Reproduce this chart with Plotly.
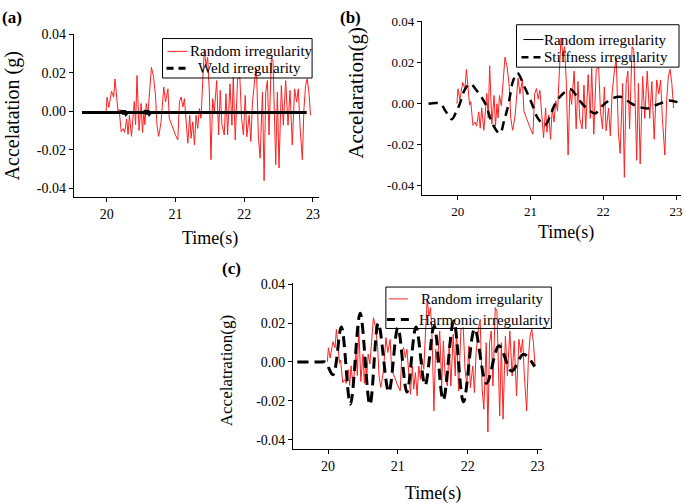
import plotly.graph_objects as go

W, H = 685, 503

# ---------------- data ----------------
random_t = [19.99, 20.005, 20.03, 20.07, 20.10, 20.12, 20.165, 20.18, 20.21, 20.24, 20.26, 20.29,
            20.31, 20.33, 20.36, 20.38, 20.40, 20.42, 20.44, 20.47, 20.49, 20.50, 20.52, 20.54,
            20.555, 20.575, 20.60, 20.65, 20.68, 20.71, 20.73, 20.755, 20.768, 20.79, 20.83, 20.855,
            20.89, 20.91, 20.947, 20.976, 21.0, 21.034, 21.058, 21.082, 21.107, 21.13, 21.155, 21.18,
            21.208, 21.227, 21.252, 21.276, 21.30, 21.324, 21.348, 21.372, 21.396, 21.42, 21.445,
            21.469, 21.493, 21.517, 21.541, 21.565, 21.60, 21.628, 21.652, 21.677, 21.710, 21.735,
            21.759, 21.793, 21.822, 21.841, 21.87, 21.904, 21.937, 21.962, 21.99, 22.015, 22.039,
            22.073, 22.097, 22.121, 22.155, 22.179, 22.208, 22.232, 22.266, 22.29, 22.314, 22.338,
            22.362, 22.396, 22.42, 22.459, 22.483, 22.507, 22.541, 22.57, 22.604, 22.638, 22.667,
            22.70, 22.734, 22.763, 22.788, 22.812, 22.846, 22.87, 22.894, 22.918, 22.942, 22.966]
random_v = [0.000, 0.0073, 0.002, 0.0104, 0.0073, 0.0167, -0.0007, 0.001, -0.0106, -0.009, -0.011, -0.004,
            -0.012, -0.002, -0.013, -0.004, 0.005, -0.007, 0.0185, -0.010, 0.002, 0.004, -0.011, 0.000,
            -0.007, 0.004, -0.001, 0.0227, 0.018, 0.008, -0.007, -0.013, -0.0106, -0.0055, 0.0125, 0.0048,
            0.0116, -0.0037, -0.0072, -0.0106, -0.0123, -0.0149, 0.0048, 0.0074, 0.0022, 0.0065, -0.0072, -0.0166,
            -0.0021, -0.014, -0.0055, -0.0174, -0.0021, -0.0089, 0.0014, -0.0037, 0.0150, 0.0321, 0.0236,
            0.0279, 0.0099, -0.0251, 0.0065, -0.0004, 0.0159, -0.0123, 0.0108, -0.0072, -0.0123, 0.0091,
            -0.0123, 0.0142, -0.0072, 0.0176, -0.0149, 0.0168, 0.0176, -0.0037, -0.0123, 0.0082, -0.0132,
            -0.0021, -0.0157, 0.0048, 0.0168, 0.0219, -0.014, -0.0243, 0.0099, -0.036, 0.0099, 0.0159,
            -0.0123, 0.0279, 0.026, -0.0277, 0.0099, -0.0294, 0.0133, -0.0072, 0.0159, -0.0072, 0.0108,
            -0.0174, 0.0116, 0.0048, 0.0116, -0.0072, -0.0251, 0.0014, 0.0133, 0.0168, 0.0099, -0.0021]

weld_t = [19.64, 20.20, 20.22, 20.24, 20.26, 20.28, 20.30, 20.54, 20.56, 20.58, 20.60, 20.62, 20.64, 22.91]
weld_v = [-0.0007, -0.0007, 0.0003, -0.0015, 0.0003, -0.0015, -0.0007, -0.0007, 0.0003, -0.0015,
          0.0003, -0.0015, -0.0007, -0.0007]

stiff_t = [19.60, 19.76, 19.84, 19.92, 19.98, 20.03, 20.10, 20.17, 20.27, 20.38, 20.48, 20.58, 20.64,
           20.70, 20.76, 20.82, 20.92, 21.02, 21.10, 21.20, 21.27, 21.34, 21.45, 21.55, 21.63, 21.71,
           21.80, 21.89, 21.96, 22.02, 22.12, 22.23, 22.31, 22.39, 22.50, 22.62, 22.70, 22.78, 22.90, 23.04]
stiff_v = [0.0, 0.0, -0.004, -0.0076, -0.004, 0.0, 0.007, 0.0097, 0.006, 0.0, -0.010, -0.0145, -0.008,
           0.0, 0.011, 0.015, 0.008, 0.0, -0.007, -0.0105, -0.006, 0.0, 0.005, 0.007, 0.004, 0.0,
           -0.003, -0.0048, -0.002, 0.0, 0.0025, 0.0034, 0.002, 0.0, -0.0017, -0.0023, -0.001, 0.0, 0.0016, 0.0005]

harm_t = [19.56, 19.90, 19.96, 20.07, 20.19, 20.32, 20.46, 20.60, 20.72, 20.87, 21.00, 21.13, 21.26,
          21.39, 21.52, 21.65, 21.80, 21.94, 22.10, 22.27, 22.45, 22.63, 22.80, 22.96]
harm_v = [0.0, 0.0, 0.0, -0.0066, 0.018, -0.0217, 0.025, -0.022, 0.020, -0.0155, 0.0176, -0.0155, 0.018,
          -0.012, 0.0185, -0.0197, 0.021, -0.0205, 0.017, -0.011, 0.0083, -0.0047, 0.004, -0.0024]

x_ticks = [20, 21, 22, 23]
y_ticks = [-0.04, -0.02, 0.0, 0.02, 0.04]
y_ticktext = ["-0.04", "-0.02", "0.00", "0.02", "0.04"]

FONT = "Liberation Serif"
RED = "#ff2020"


def px(x):
    return x / W


def py(y):
    return 1 - y / H


fig = go.Figure()

# ---- panel (a)
fig.add_trace(go.Scatter(x=random_t, y=random_v, mode="lines", line=dict(color=RED, width=1),
                         name="Random irregularity", showlegend=False, xaxis="x", yaxis="y"))
fig.add_trace(go.Scatter(x=weld_t, y=weld_v, mode="lines", line=dict(color="black", width=3),
                         name="Weld irregularity", showlegend=False, xaxis="x", yaxis="y"))

# ---- panel (b)
fig.add_trace(go.Scatter(x=random_t, y=random_v, mode="lines", line=dict(color=RED, width=1),
                         name="Random irregularity", showlegend=False, xaxis="x2", yaxis="y2"))
fig.add_trace(go.Scatter(x=stiff_t, y=stiff_v, mode="lines", line_shape="spline",
                         line=dict(color="black", width=2.5, dash="9px,6px"),
                         name="Stiffness irregularity", showlegend=False, xaxis="x2", yaxis="y2"))

# ---- panel (c)
fig.add_trace(go.Scatter(x=random_t, y=random_v, mode="lines", line=dict(color=RED, width=1),
                         name="Random irregularity", showlegend=False, xaxis="x3", yaxis="y3"))
fig.add_trace(go.Scatter(x=harm_t, y=harm_v, mode="lines", line_shape="spline",
                         line=dict(color="black", width=3, dash="11px,6px"),
                         name="Harmonic irregularity", showlegend=False, xaxis="x3", yaxis="y3"))

axis_common = dict(showline=True, linecolor="black", linewidth=1, ticks="outside", ticklen=4,
                   tickcolor="black", showgrid=False, zeroline=False, mirror=False)


def xa(dom, rng, anchor, fs):
    return dict(axis_common, domain=dom, range=rng, anchor=anchor, tickvals=x_ticks,
                tickfont=dict(family=FONT, size=fs, color="black"))


def ya(dom, rng, anchor, fs):
    return dict(axis_common, domain=dom, range=rng, anchor=anchor, tickvals=y_ticks,
                ticktext=y_ticktext, tickfont=dict(family=FONT, size=fs, color="black"))


fig.update_layout(
    width=W, height=H, margin=dict(l=0, r=0, t=0, b=0),
    paper_bgcolor="white", plot_bgcolor="white", showlegend=False,
    font=dict(family=FONT, color="black"),
    xaxis=xa([px(74), px(320)], [19.52, 23.09], "y", 14),
    yaxis=ya([py(193), py(27)], [-0.0446, 0.0402], "x", 14),
    xaxis2=xa([px(423), px(683)], [19.507, 23.068], "y2", 13),
    yaxis2=ya([py(191), py(14)], [-0.0448, 0.0405], "x2", 13),
    xaxis3=xa([px(294), px(544)], [19.5, 23.071], "y3", 14),
    yaxis3=ya([py(448), py(280)], [-0.0446, 0.0405], "x3", 14),
)

ann = []
shapes = []


def text(s, x, y, size, angle=0, bold=False, anchor="center"):
    ann.append(dict(text=f"<b>{s}</b>" if bold else s, x=px(x), y=py(y), xref="paper", yref="paper",
                    showarrow=False, xanchor=anchor, yanchor="middle", textangle=angle,
                    font=dict(family=FONT, size=size, color="black")))


def legend_box(x0, y0, x1, y1, rows):
    shapes.append(dict(type="rect", xref="paper", yref="paper", x0=px(x0), x1=px(x1),
                       y0=py(y1), y1=py(y0), line=dict(color="black", width=1),
                       fillcolor="rgba(0,0,0,0)"))
    for label, color, width, dash, lx0, lx1, tx, ty in rows:
        shapes.append(dict(type="line", xref="paper", yref="paper", x0=px(lx0), x1=px(lx1),
                           y0=py(ty), y1=py(ty), line=dict(color=color, width=width, dash=dash)))
        text(label, tx, ty, 15, anchor="left")


legend_box(163, 32, 313, 72, [
    ("Random irregularity", RED, 1, "solid", 168, 188, 189, 45),
    ("Weld irregularity", "black", 3, "7px,5px", 167, 188, 197, 62),
])
legend_box(518, 18, 681, 61, [
    ("Random irregularity", "black", 1, "solid", 525, 545, 544, 33),
    ("Stiffness irregularity", "black", 2.5, "7px,5px", 523, 545, 544, 51),
])
legend_box(387, 284, 553, 326, [
    ("Random irregularity", RED, 1, "solid", 390, 409, 420, 296),
    ("Harmonic irregularity", "black", 3, "8px,6px", 388, 415, 418, 317),
])

text("Time(s)", 211, 235, 18)
text("Time(s)", 568, 229, 18)
text("Time(s)", 434, 493, 18)
text("Accelatation (g)", 13, 110, 20, angle=-90)
text("Accelaration(g)", 357, 87, 21, angle=-90)
text("Accelatration(g)", 228, 369, 17, angle=-90)
text("(a)", 12, 11, 17, bold=True)
text("(b)", 352, 11, 17, bold=True)
text("(c)", 232, 265, 17, bold=True)
fig.update_layout(annotations=ann, shapes=shapes)

fig.write_html("out.html", config={"displayModeBar": False},
               post_script="document.body.style.margin='0px';document.body.style.overflow='hidden';")
